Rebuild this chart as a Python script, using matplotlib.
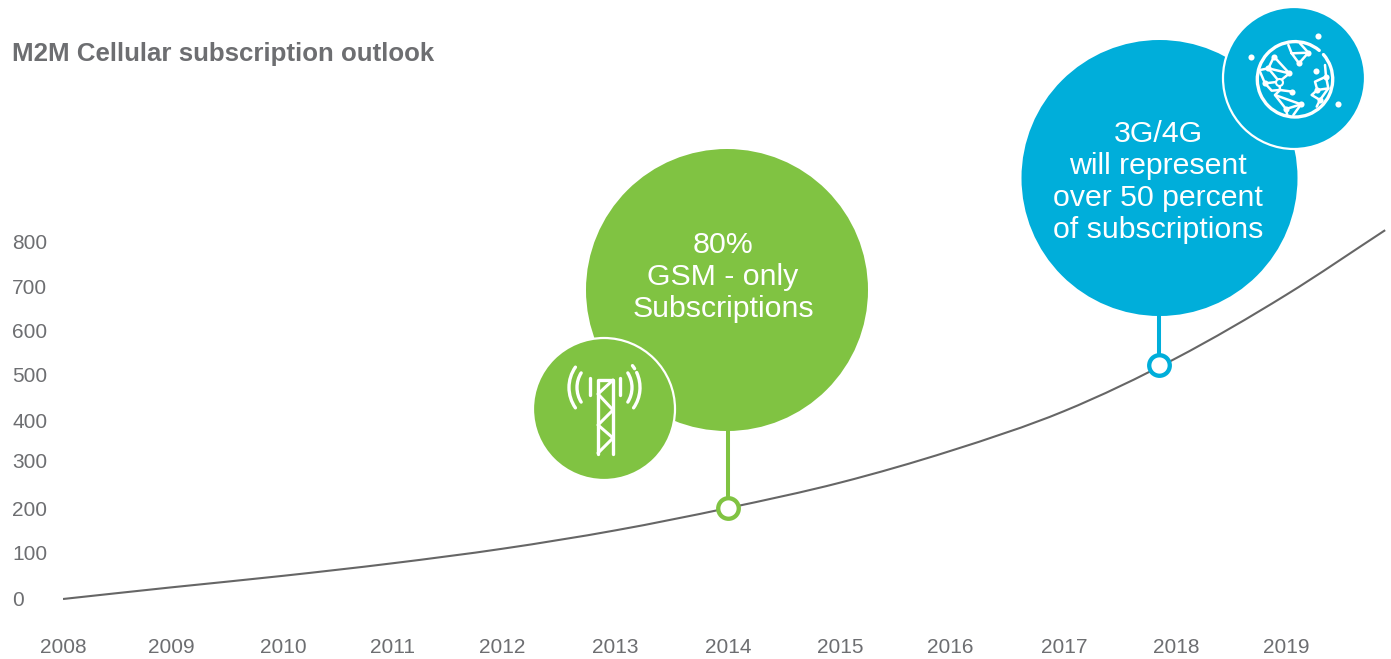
import numpy as np
import matplotlib
matplotlib.use("Agg")
import matplotlib.pyplot as plt
from matplotlib.patches import Circle, Arc, PathPatch
from matplotlib.path import Path

plt.rcParams['font.family'] = ['Liberation Sans', 'DejaVu Sans']

GREEN = '#80C342'
BLUE = '#00AEDA'
LINE = '#666666'
TEXT = '#6D6E71'

years = [2008, 2008.97, 2009.98, 2010.96, 2011.96, 2012.97, 2013.98, 2014.99, 2015.98,
         2017.0, 2018.01, 2019.0, 2019.89]
subscriptions = [0, 26, 52, 80, 113, 154, 204, 261, 332,
                 421, 540, 682, 827]

year_labels = [str(y) for y in range(2008, 2020)]
year_ticks = [2008, 2008.97, 2009.98, 2010.96, 2011.95, 2012.97,
              2013.98, 2014.99, 2015.98, 2017.0, 2018.01, 2019.0]
value_labels = [str(v) for v in range(0, 900, 100)]
value_ticks = [1, 104, 204, 310, 401, 504, 601, 701, 802]

gsm_year, gsm_value = 2013.98, 205
lte_year, lte_value = 2017.86, 525

W, H = 1391, 659
fig = plt.figure(figsize=(W / 100, H / 100), dpi=100, facecolor='white')

# main axes run from x=63 to the right edge and from the top down to y=612
ax = fig.add_axes([63 / W, (H - 612) / H, (W - 63) / W, 612 / H])
px_per_year = 111.2
px_per_unit = 0.446
ax.set_xlim(2008, 2008 + (W - 63) / px_per_year)
ax.set_ylim(-(612 - 599) / px_per_unit, 599 / px_per_unit)
ax.patch.set_visible(False)
for s in ax.spines.values():
    s.set_visible(False)

ax.set_xticks(year_ticks, year_labels)
ax.set_yticks(value_ticks, value_labels)
ax.tick_params(length=0, labelsize=15, labelcolor=TEXT)
ax.tick_params(axis='x', pad=18.5)
ax.tick_params(axis='y', pad=36.7)
for lab in ax.get_yticklabels():
    lab.set_ha('left')


def smooth_path(xs, ys):
    # cubic segments through the read values, tangents from np.gradient
    xs, ys = np.asarray(xs, float), np.asarray(ys, float)
    slopes = np.gradient(ys, xs)
    verts = [(xs[0], ys[0])]
    codes = [Path.MOVETO]
    for i in range(len(xs) - 1):
        dx = (xs[i + 1] - xs[i]) / 3
        verts += [(xs[i] + dx, ys[i] + slopes[i] * dx),
                  (xs[i + 1] - dx, ys[i + 1] - slopes[i + 1] * dx),
                  (xs[i + 1], ys[i + 1])]
        codes += [Path.CURVE4] * 3
    return Path(verts, codes)


ax.add_patch(PathPatch(smooth_path(years, subscriptions), fc='none', ec=LINE, lw=1.5, zorder=2))

# stems and hollow markers for the two call-outs
ax.plot([gsm_year, gsm_year], [gsm_value, 400], color=GREEN, lw=2.9, zorder=3)
ax.plot([lte_year, lte_year], [lte_value, 660], color=BLUE, lw=2.9, zorder=3)
ax.plot([gsm_year], [gsm_value], 'o', ms=14.8, mfc='white', mec=GREEN, mew=3.1, zorder=4)
ax.plot([lte_year], [lte_value], 'o', ms=14.8, mfc='white', mec=BLUE, mew=3.1, zorder=4)

# overlay in pixel units for the bubbles and icons
ov = fig.add_axes([0, 0, 1, 1])
ov.set_xlim(0, W)
ov.set_ylim(H, 0)
ov.axis('off')
ov.patch.set_visible(False)

ov.text(12, 54, 'M2M Cellular subscription outlook', fontsize=18.65, fontweight='bold',
        color=TEXT, va='center', ha='left')


def bubble(x, y, r, color, edge=None):
    ov.add_patch(Circle((x, y), r, fc=color, ec=edge or color, lw=1.6 if edge else 0))


bubble(727, 290, 141, GREEN)
bubble(604, 409, 71, GREEN, 'white')
bubble(1159.5, 178, 138, BLUE)
bubble(1294, 78, 71, BLUE, 'white')

for y, line in zip([245, 277, 309], ['80%', 'GSM - only', 'Subscriptions']):
    ov.text(723, y, line, color='white', fontsize=21.8, ha='center', va='center')
for y, line in zip([134, 166, 198, 230],
                   ['3G/4G', 'will represent', 'over 50 percent', 'of subscriptions']):
    ov.text(1158, y, line, color='white', fontsize=21.8, ha='center', va='center')


def stroke(points, lw=2.0):
    xs, ys = zip(*points)
    ov.plot(xs, ys, color='white', lw=lw, solid_capstyle='round', solid_joinstyle='round')


def arc(x, y, r, theta1, theta2, lw=2.4):
    ov.add_patch(Arc((x, y), 2 * r, 2 * r, theta1=theta1, theta2=theta2,
                     color='white', lw=lw, capstyle='round'))


# antenna tower
stroke([(598, 454), (598, 380), (613, 380), (613, 454)], lw=2.4)
stroke([(613, 380), (598, 394), (613, 410), (598, 425), (613, 438), (598, 453)], lw=2.2)
stroke([(590.3, 378), (590.3, 395)], lw=2.4)
stroke([(620, 378), (620, 395)], lw=2.4)
arc(604.5, 387.5, 27.5, 148, 212)
arc(604.5, 387.5, 27.5, -32, 32)
arc(604.5, 387.5, 35.5, 145, 215)
arc(604.5, 387.5, 35.5, -25, 35)
arc(604.5, 387.5, 35.5, -38, -32)


# globe icon, points given on a 3x grid anchored at the icon corner
def g(*pts):
    return [(1200 + px / 3, py / 3) for px, py in pts]


arc(1295, 79.3, 37.7, -41, 310)
globe_links = [
    [(265, 135), (275, 160), (297, 190), (325, 158), (275, 160)],
    [(325, 158), (300, 130)],
    [(222, 170), (205, 205), (268, 220), (222, 170)],
    [(180, 210), (205, 205), (238, 245), (268, 220)],
    [(180, 215), (195, 250), (238, 245), (240, 270), (277, 275)],
    [(195, 250), (215, 272), (240, 270)],
    [(240, 270), (225, 285), (303, 313), (280, 345)],
    [(225, 285), (258, 327), (303, 313)],
    [(258, 327), (262, 347)],
    [(375, 195), (378, 230), (345, 245), (352, 270), (385, 265), (378, 230)],
    [(352, 270), (335, 285), (360, 300), (385, 265)],
    [(360, 300), (350, 320)],
]
for link in globe_links:
    stroke(g(*link), lw=1.8)
for pt in [(297, 190), (325, 158), (205, 205), (268, 220), (222, 170), (195, 250), (277, 275),
           (303, 313), (258, 327), (378, 230), (352, 270), (360, 300), (347, 213),
           (152, 172), (355, 108), (415, 312)]:
    x, y = g(pt)[0]
    ov.plot([x], [y], 'o', color='white', ms=4.4, mew=0)
x, y = g((238, 245))[0]
ov.plot([x], [y], 'o', mfc=BLUE, mec='white', ms=5, mew=1.5)

fig.savefig('out.png', dpi=100, facecolor='white')
